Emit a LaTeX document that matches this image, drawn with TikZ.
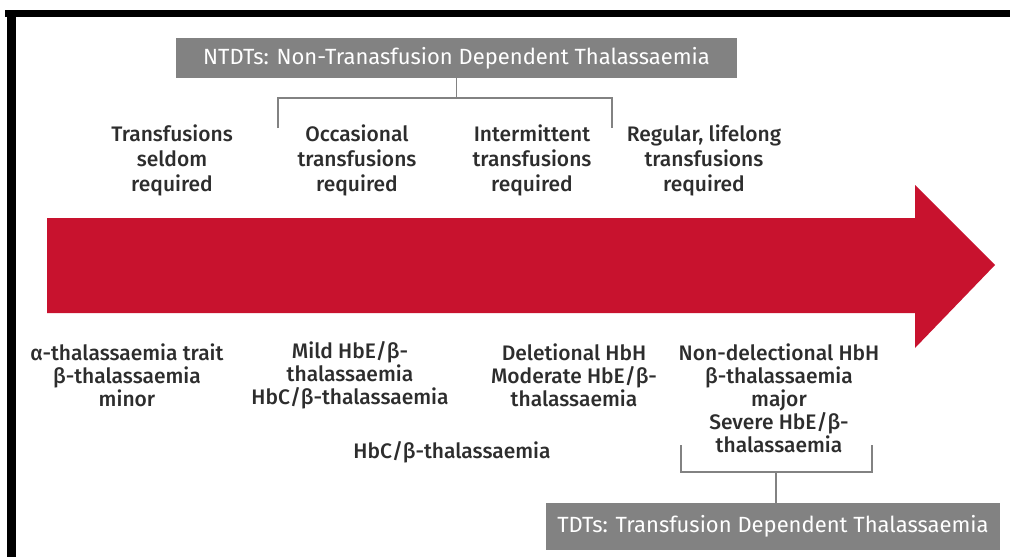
\documentclass[tikz,border=0pt]{standalone}
\usepackage{fontspec}
\setmainfont{Fira Sans}[UprightFont=* Medium]
\newfontfamily\boxfont{Fira Sans}
\definecolor{arrowred}{RGB}{200,18,46}
\definecolor{boxgray}{RGB}{130,130,130}
\definecolor{textgray}{RGB}{45,45,45}
\tikzset{
  graybox/.style={fill=boxgray, text=white, inner sep=0pt, font=\boxfont\fontsize{22}{26}\selectfont},
  toplabel/.style={align=center, text=textgray, font=\fontsize{21}{25}\selectfont},
  botlabel/.style={align=center, text=textgray, font=\fontsize{21}{23}\selectfont},
  bracket/.style={draw=boxgray, line width=1.5pt}
}
\begin{document}
\begin{tikzpicture}[x=1pt,y=-1pt]
    \useasboundingbox (0,0) rectangle (1010,557);
    % frame on top and left
    \fill (5,10) rectangle (1010,17);
    \fill (7,10) rectangle (16,557);

    % the big arrow
    \fill[arrowred] (47,218) -- (915,218) -- (915,185) -- (995,265) -- (915,348) -- (915,313) -- (47,313) -- cycle;

    % Boxes for the two groups
    \node[graybox, minimum width=561pt, minimum height=40pt] (ntdt) at (456.5,58) {NTDTs: Non-Tranasfusion Dependent Thalassaemia};
    \node[graybox, minimum width=454pt, minimum height=47pt] (tdt) at (773,526.5) {TDTs: Transfusion Dependent Thalassaemia};

    % Labels above the arrow
    \node[toplabel] (seldom) at (172,160) {Transfusions\\seldom\\required};
    \node[toplabel] (occasional) at (357,160) {Occasional\\transfusions\\required};
    \node[toplabel] (intermittent) at (532,160) {Intermittent\\transfusions\\required};
    \node[toplabel] (regular) at (704,160) {Regular, lifelong\\transfusions\\required};

    % Labels below the arrow
    \node[botlabel] (trait) at (127,375) {α-thalassaemia trait\\β-thalassaemia\\minor};
    \node[botlabel] (mild) at (350,375) {Mild HbE/β-\\thalassaemia\\HbC/β-thalassaemia};
    \node[botlabel] (deletional) at (574,375) {Deletional HbH\\Moderate HbE/β-\\thalassaemia};
    \node[botlabel] (nondel) at (779,398) {Non-delectional HbH\\β-thalassaemia\\major\\Severe HbE/β-\\thalassaemia};
    \node[botlabel] (hbc) at (452,452) {HbC/β-thalassaemia};

    % Brackets
    \coordinate (topmid) at (ntdt.south |- 0,98);
    \coordinate (topleft) at (278,98);
    \coordinate (topright) at (612,98);
    \draw[bracket] (ntdt.south) -- (topmid);
    \draw[bracket] (278,128) -- (topleft) -- (topright) -- (612,128);

    \coordinate (botmid) at (776,472);
    \coordinate (botleft) at (681,472);
    \coordinate (botright) at (872,472);
    \draw[bracket] (681,445) -- (botleft) -- (botright) -- (872,445);
    \draw[bracket] (botmid) -- (botmid |- tdt.north);
\end{tikzpicture}
\end{document}
